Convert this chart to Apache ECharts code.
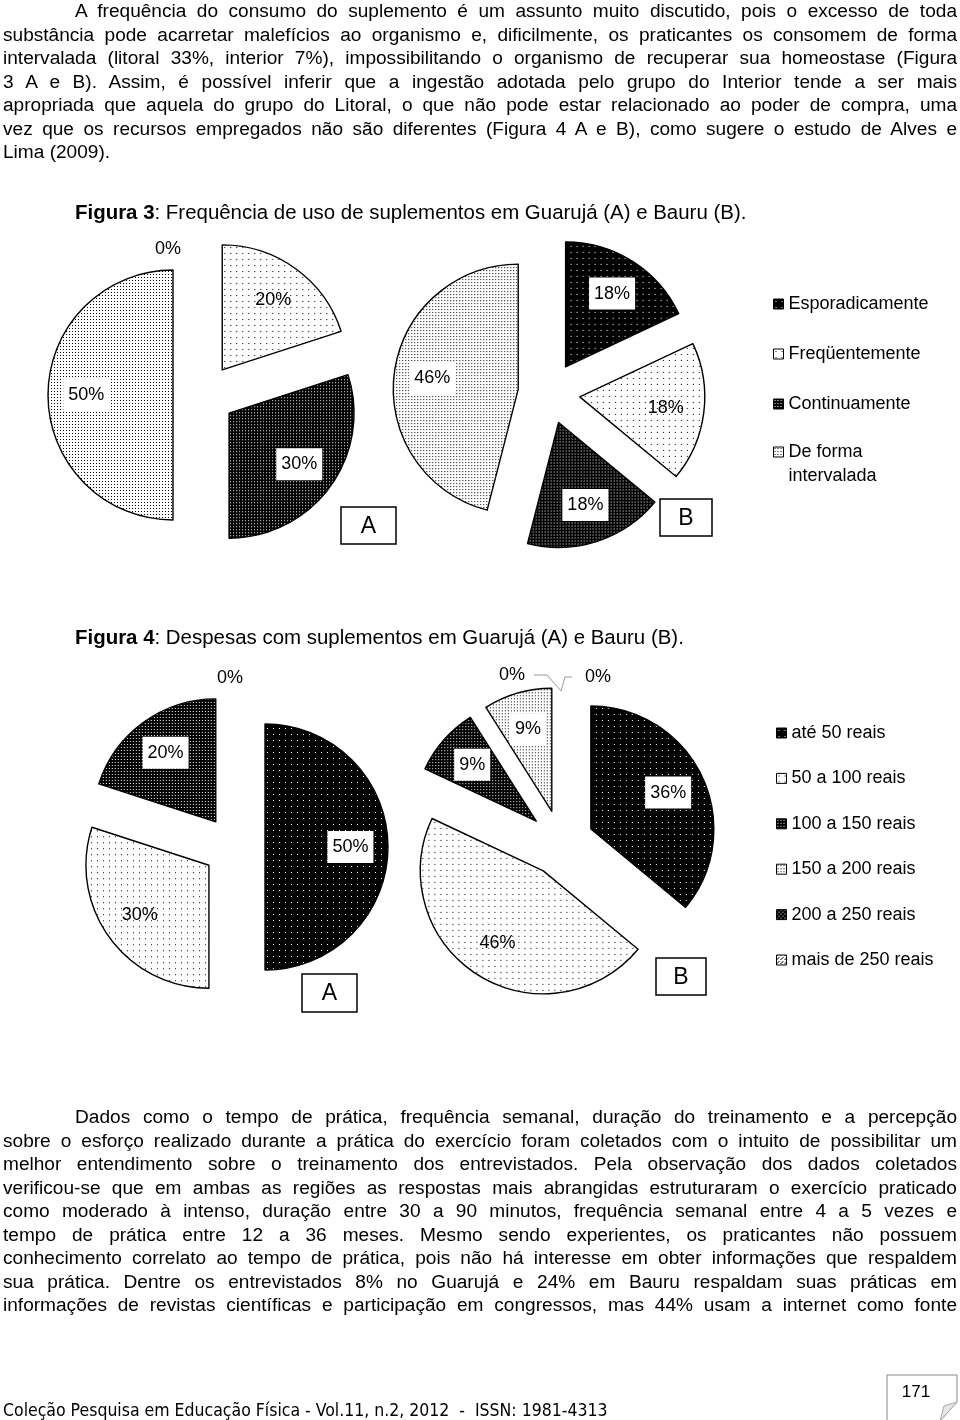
<!DOCTYPE html>
<html>
<head>
<meta charset="utf-8">
<script src="https://cdn.jsdelivr.net/npm/echarts@6/dist/echarts.min.js"></script>
<style>
html,body{margin:0;padding:0;background:#fff;}
#page{position:relative;width:960px;height:1420px;overflow:hidden;background:#fff;}
#chart{position:absolute;left:0;top:0;width:960px;height:1420px;}
.txt{position:absolute;left:3px;width:900px;transform-origin:0 0;transform:scaleX(1.06);
  font-family:"Liberation Sans",Arial,sans-serif;font-size:18px;color:#000;}
.line{height:23.5px;line-height:23.5px;text-align:justify;text-align-last:justify;overflow:hidden;}
.last{text-align-last:left;}
.ind{padding-left:68px;}
.title{position:absolute;left:75px;transform-origin:0 0;transform:scaleX(1.06);
  font-family:"Liberation Sans",Arial,sans-serif;font-size:19.3px;color:#000;white-space:nowrap;line-height:24px;}
.foot{position:absolute;left:3px;top:1398px;font-family:"Liberation Sans Narrow","DejaVu Sans Condensed",sans-serif;
  font-size:17.5px;color:#000;white-space:nowrap;line-height:24px;}
</style>
</head>
<body>
<div id="page">
  <div id="chart"></div>
  <div class="txt" style="top:0px">
    <div class="line ind">A frequência do consumo do suplemento é um assunto muito discutido, pois o excesso de toda</div>
    <div class="line">substância pode acarretar malefícios ao organismo e, dificilmente, os praticantes os consomem de forma</div>
    <div class="line">intervalada (litoral 33%, interior 7%), impossibilitando o organismo de recuperar sua homeostase (Figura</div>
    <div class="line">3 A e B). Assim, é possível inferir que a ingestão adotada pelo grupo do Interior tende a ser mais</div>
    <div class="line">apropriada que aquela do grupo do Litoral, o que não pode estar relacionado ao poder de compra, uma</div>
    <div class="line">vez que os recursos empregados não são diferentes (Figura 4 A e B), como sugere o estudo de Alves e</div>
    <div class="line last">Lima (2009).</div>
  </div>
  <div class="title" style="top:201px"><b>Figura 3</b>: Frequência de uso de suplementos em Guarujá (A) e Bauru (B).</div>
  <div class="title" style="top:626px"><b>Figura 4</b>: Despesas com suplementos em Guarujá (A) e Bauru (B).</div>
  <div class="txt" style="top:1106px">
    <div class="line ind">Dados como o tempo de prática, frequência semanal, duração do treinamento e a percepção</div>
    <div class="line">sobre o esforço realizado durante a prática do exercício foram coletados com o intuito de possibilitar um</div>
    <div class="line">melhor entendimento sobre o treinamento dos entrevistados. Pela observação dos dados coletados</div>
    <div class="line">verificou-se que em ambas as regiões as respostas mais abrangidas estruturaram o exercício praticado</div>
    <div class="line">como moderado à intenso, duração entre 30 a 90 minutos, frequência semanal entre 4 a 5 vezes e</div>
    <div class="line">tempo de prática entre 12 a 36 meses. Mesmo sendo experientes, os praticantes não possuem</div>
    <div class="line">conhecimento correlato ao tempo de prática, pois não há interesse em obter informações que respaldem</div>
    <div class="line">sua prática. Dentre os entrevistados 8% no Guarujá e 24% em Bauru respaldam suas práticas em</div>
    <div class="line">informações de revistas científicas e participação em congressos, mas 44% usam a internet como fonte</div>
  </div>
  <div class="foot">Coleção Pesquisa em Educação Física - Vol.11, n.2, 2012&nbsp; - &nbsp;ISSN: 1981-4313</div>
</div>
<script>
// ---------------- data ----------------
const CATS_FREQ = ['Esporadicamente', 'Freqüentemente', 'Continuamente', 'De forma intervalada'];
const FREQ_A = [0, 20, 30, 50];     // Guarujá
const FREQ_B = [18, 18, 18, 46];    // Bauru
const CATS_COST = ['até 50 reais', '50 a 100 reais', '100 a 150 reais', '150 a 200 reais', '200 a 250 reais', 'mais de 250 reais'];
const COST_A = [50, 30, 20, 0, 0, 0];   // Guarujá
const COST_B = [36, 46, 9, 9, 0, 0];    // Bauru
// which zero-valued slices carry a visible "0%" label
const ZERO_SHOWN_FREQ_A = [0];
const ZERO_SHOWN_COST_A = [3];
const ZERO_SHOWN_COST_B = [4, 5];

// ---------------- patterns ----------------
function tile(w, h, bg, fg, dots) {
  const c = document.createElement('canvas');
  c.width = w; c.height = h;
  const g = c.getContext('2d');
  g.fillStyle = bg; g.fillRect(0, 0, w, h);
  g.fillStyle = fg;
  dots.forEach(d => g.fillRect(d[0], d[1], d[2] || 1, d[3] || 1));
  return c;
}
const PAT = [
  tile(6, 6, '#000', '#fff', [[2, 2]]),
  tile(6, 6, '#fff', '#000', [[2, 2]]),
  tile(3, 3, '#000', '#fff', [[1, 1]]),
  tile(3, 3, '#fff', '#000', [[1, 1]]),
  tile(4, 4, '#000', '#fff', [[0, 0], [2, 2]]),
  tile(4, 4, '#fff', '#000', [[0, 0], [2, 2], [1, 3]])
];
const FONT = '"Liberation Sans", Arial, sans-serif';

function buildPie(cats, vals, cx, cy, r, off, zeroShown, zeroSpec) {
  const top = [cx, cy - r - off];
  const main = {
    type: 'pie', center: [cx, cy], radius: r, startAngle: 90, clockwise: true,
    selectedMode: 'multiple', selectedOffset: off, avoidLabelOverlap: false,
    silent: true, animation: false, emphasis: { disabled: true },
    label: { show: false }, labelLine: { show: false },
    data: vals.map((v, i) => {
      const item = {
        name: cats[i], value: v, selected: v > 0,
        itemStyle: { color: { image: PAT[i], repeat: 'repeat' }, borderColor: '#000', borderWidth: v === 0 ? 0 : 1.4 }
      };
      if (v === 0 && zeroShown.indexOf(i) >= 0) {
        item.label = { show: true, position: 'outside', formatter: v + '%', color: '#000', fontSize: 18, fontFamily: FONT };
        item.labelLine = { show: !!(zeroSpec[i] && zeroSpec[i].line), lineStyle: { color: '#999', width: 1 } };
      }
      return item;
    }),
    labelLayout: function (p) {
      const s = zeroSpec[p.dataIndex];
      if (!s) return {};
      const o = { x: top[0] + s.dx, y: top[1] + s.dy, align: 'center', verticalAlign: 'middle' };
      if (s.line) o.labelLinePoints = s.line.map(q => [top[0] + q[0], top[1] + q[1]]);
      return o;
    }
  };
  const labels = {
    type: 'pie', center: [cx, cy], radius: r * 1.34, startAngle: 90, clockwise: true,
    selectedMode: 'multiple', selectedOffset: off, avoidLabelOverlap: false,
    silent: true, animation: false, emphasis: { disabled: true },
    itemStyle: { color: 'rgba(0,0,0,0)', borderWidth: 0 },
    labelLine: { show: false },
    data: vals.map((v, i) => ({
      name: cats[i], value: v, selected: v > 0,
      label: {
        show: v > 0, position: 'inside', formatter: v + '%', color: '#000',
        fontSize: 18, fontFamily: FONT,
        backgroundColor: i === 1 ? 'transparent' : '#fff', padding: [7, 5]
      }
    }))
  };
  return [main, labels];
}

function boxLabel(x, y, w, h, t) {
  return {
    type: 'group', children: [
      { type: 'rect', shape: { x: x, y: y, width: w, height: h }, style: { fill: '#fff', stroke: '#000', lineWidth: 1.5 } },
      { type: 'text', x: x + w / 2, y: y + h / 2 + 1, style: { text: t, font: '23px ' + FONT, fill: '#000', align: 'center', verticalAlign: 'middle' } }
    ]
  };
}

const series = [].concat(
  buildPie(CATS_FREQ, FREQ_A, 204, 395, 125, 31, ZERO_SHOWN_FREQ_A, { 0: { dx: -36, dy: 10 } }),
  buildPie(CATS_FREQ, FREQ_B, 549, 393, 125, 31, [], {}),
  buildPie(CATS_COST, COST_A, 234, 847, 123, 31, ZERO_SHOWN_COST_A, { 3: { dx: -4, dy: -15 } }),
  buildPie(CATS_COST, COST_B, 561, 843, 123, 33, ZERO_SHOWN_COST_B, {
    4: { dx: -49, dy: -12, line: [[0, 4], [-14, -12], [-27, -12]] },
    5: { dx: 37, dy: -10, line: [[0, 4], [4, -10], [11, -10]] }
  })
);

const legendCommon = {
  orient: 'vertical', icon: 'rect', itemWidth: 10, itemHeight: 10, selectedMode: false,
  itemStyle: { borderColor: '#000', borderWidth: 1 },
  textStyle: { color: '#000', fontSize: 18, fontFamily: FONT, lineHeight: 24 }
};

const chart = echarts.init(document.getElementById('chart'), null, { renderer: 'canvas', width: 960, height: 1420 });
chart.setOption({
  animation: false,
  backgroundColor: 'transparent',
  legend: [
    Object.assign({}, legendCommon, {
      left: 768, top: 287, itemGap: 26,
      data: CATS_FREQ.slice(0, 3)
    }),
    Object.assign({}, legendCommon, {
      left: 768, top: 411,
      data: CATS_FREQ.slice(3),
      formatter: n => n === 'De forma intervalada' ? ' \nDe forma\nintervalada' : n
    }),
    Object.assign({}, legendCommon, {
      left: 771, top: 716, itemGap: 21.4,
      data: CATS_COST
    })
  ],
  series: series,
  graphic: [
    boxLabel(341, 507, 55, 37, 'A'),
    boxLabel(660, 499, 52, 37, 'B'),
    boxLabel(302, 974, 55, 38, 'A'),
    boxLabel(656, 958, 50, 37, 'B'),
    {
      type: 'polyline', shape: { points: [[887, 1421], [887, 1375], [957, 1375], [957, 1402], [940, 1421]] },
      style: { stroke: '#888', lineWidth: 1, fill: '#fff' }
    },
    {
      type: 'polygon', shape: { points: [[957, 1402], [940, 1421], [944, 1406]] },
      style: { stroke: '#aaa', lineWidth: 1, fill: '#e6e6e6' }
    },
    { type: 'text', x: 916, y: 1392, style: { text: '171', font: '17px "Liberation Sans Narrow", ' + FONT, fill: '#000', align: 'center', verticalAlign: 'middle' } }
  ]
});
</script>
</body>
</html>
